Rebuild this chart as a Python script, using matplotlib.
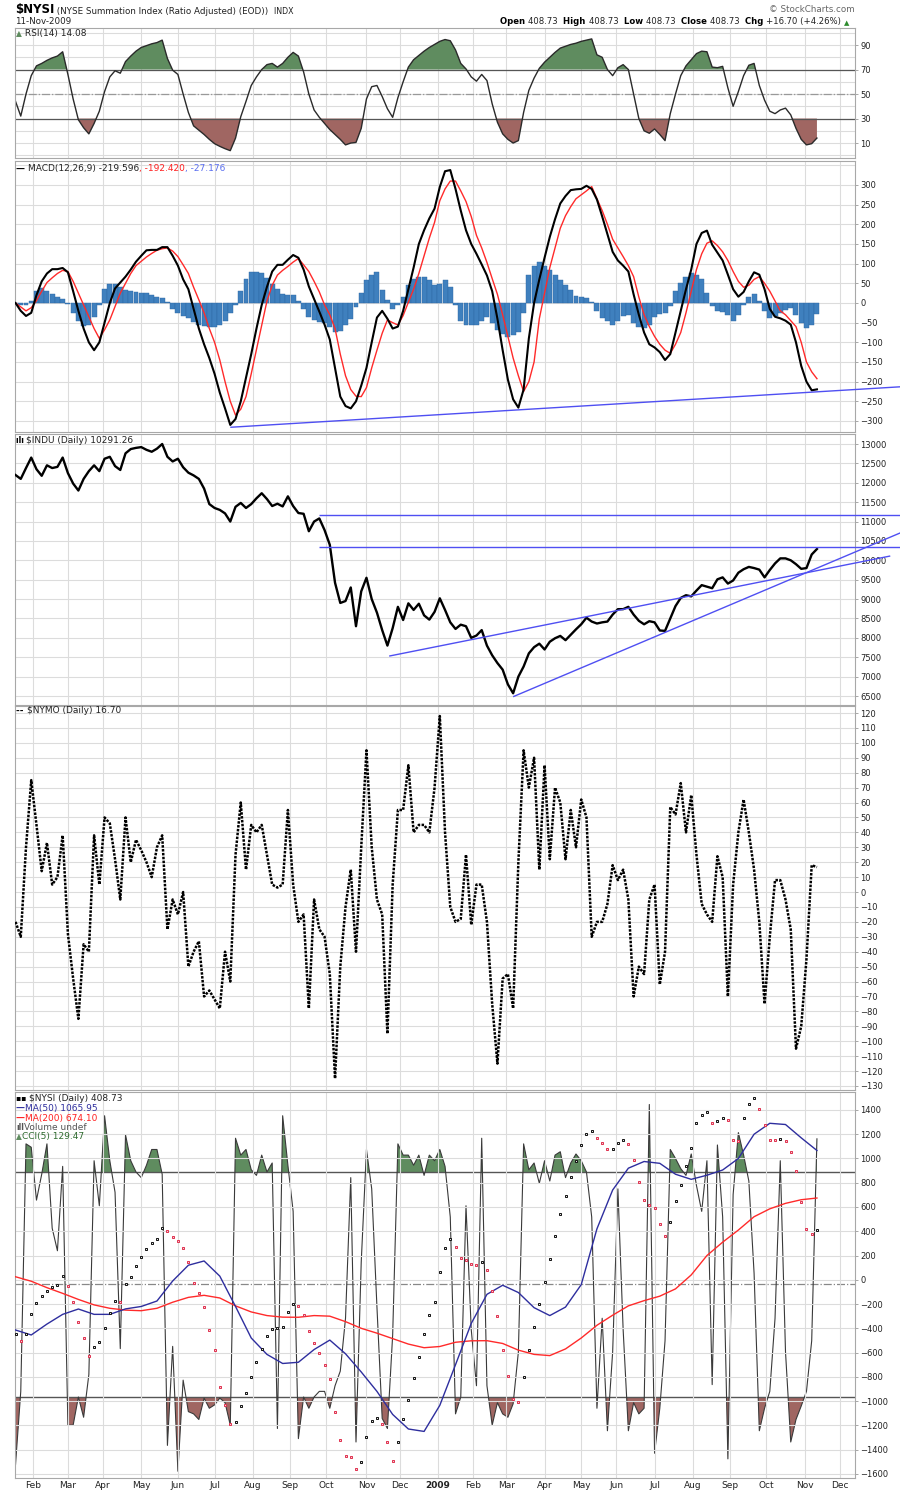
import numpy as np
import matplotlib
matplotlib.use("Agg")
import matplotlib.pyplot as plt
from matplotlib.text import Annotation

plt.rcParams['font.family'] = ['DejaVu Sans']

# ---------------- trading calendar (NYSE sessions) ----------------
HOLIDAYS = ['2008-01-21', '2008-02-18', '2008-03-21', '2008-05-26', '2008-07-04',
            '2008-09-01', '2008-11-27', '2008-12-25', '2009-01-01', '2009-01-19',
            '2009-02-16', '2009-04-10', '2009-05-25', '2009-07-03', '2009-09-07',
            '2009-11-26', '2009-12-25', '2010-01-01', '2010-01-18']
all_days = np.arange(np.datetime64('2008-01-17'), np.datetime64('2010-02-01'))
sessions = all_days[np.is_busday(all_days, holidays=HOLIDAYS)]


def sess(date):
    return int(np.searchsorted(sessions, np.datetime64(date)))


STEP = 3      # readings taken every third session (17-Jan-2008 .. 11-Nov-2009)
STEP_MA = 9   # moving-average readings every ninth session

# ---------------- data ----------------
rsi_vals = [44, 32, 50, 65, 73, 75, 77.5, 79.5, 81, 84.5,
            66, 46, 29, 22.5, 17.5, 26, 36, 52, 64, 69,
            67, 76.5, 81, 85, 88, 89.5, 91, 92, 94, 79,
            69.5, 66, 50, 35, 24, 20.5, 17, 13, 9.5, 7.3,
            5.4, 3.8, 14, 31.5, 44, 57, 64, 70, 74, 75,
            72, 75, 80, 84, 81, 68, 50, 37, 31, 26,
            21, 17, 13, 8.5, 10, 10.5, 22, 46, 56, 57,
            48, 38, 31, 47, 60, 72, 78, 81.5, 85, 88,
            90.5, 93, 94.5, 93.5, 86, 75, 70.5, 64, 60.5, 66,
            61, 42, 27, 17.5, 13, 10, 12, 35, 53, 63,
            71, 76, 80, 84, 87.5, 89, 90.5, 91.5, 93, 94,
            95, 82, 80, 70, 65, 71.5, 74, 70, 50, 30,
            20, 18, 21.5, 17, 12, 34, 50, 65, 73, 78,
            83, 85, 84.5, 72, 71.5, 72.6, 55, 40, 52, 65,
            73.5, 75, 57, 45, 36, 34, 37, 38.5, 33, 22,
            13, 8.5, 9.5, 14.08]

macd_vals = [0, -20, -33, -25, 20, 55, 75, 86, 86, 89,
             78, 30, -20, -65, -100, -120, -100, -50, 0, 37,
             52, 67, 85, 105, 120, 134, 135, 135, 142, 142,
             120, 95, 60, 35, -15, -65, -105, -140, -180, -228,
             -268, -310, -295, -250, -190, -130, -65, -5, 41, 80,
             97, 97, 110, 122, 115, 85, 42, 10, -22, -55,
             -93, -165, -238, -262, -268, -250, -210, -165, -100, -37,
             -20, -40, -65, -60, -20, 35, 90, 150, 185, 215,
             240, 295, 335, 338, 290, 235, 185, 150, 125, 98,
             70, 30, -40, -120, -195, -245, -266, -220, -90, 0,
             60, 115, 168, 213, 253, 272, 287, 289, 290, 298,
             290, 263, 220, 175, 130, 108, 95, 80, 22, -30,
             -75, -105, -113, -125, -145, -130, -75, -20, 35, 85,
             150, 178, 184, 148, 128, 108, 72, 35, 16, 28,
             55, 78, 72, 35, -15, -35, -39, -45, -55, -100,
             -160, -200, -222, -219.596]

signal_vals = [0, -10, -20, -12, 6, 30, 52, 64, 75, 83,
               80, 55, 25, -5, -35, -65, -90, -68, -43, -9,
               25, 50, 75, 95, 106, 117, 126, 134, 138, 140,
               132, 118, 97, 75, 40, 8, -25, -65, -100, -145,
               -200, -250, -285, -270, -238, -180, -118, -55, 5, 45,
               71, 83, 93, 104, 113, 97, 80, 55, 28, -5,
               -30, -65, -130, -185, -220, -237, -238, -215, -165, -120,
               -77, -43, -50, -56, -32, 2, 35, 75, 120, 165,
               205, 260, 290, 310, 310, 285, 258, 220, 172, 140,
               103, 62, 22, -30, -85, -140, -185, -225, -200, -150,
               -40, 25, 90, 140, 190, 222, 245, 265, 275, 285,
               296, 265, 235, 200, 162, 140, 118, 95, 67, 15,
               -30, -60, -85, -105, -120, -128, -105, -75, -25, 30,
               85, 125, 152, 158, 146, 130, 108, 80, 55, 40,
               45, 60, 67, 50, 30, 5, -20, -30, -45, -60,
               -100, -150, -175, -192.420]

hist_vals = [0, -5, -5, 5, 30, 37, 30, 22, 15, 10,
             -2, -25, -45, -58, -55, -35, -5, 35, 48, 48,
             40, 34, 30, 28, 26, 25, 21, 16, 12, 2,
             -15, -25, -32, -37, -48, -55, -58, -60, -60, -55,
             -47, -25, -5, 30, 60, 78, 80, 77, 63, 48,
             35, 22, 20, 20, 5, -15, -35, -44, -48, -50,
             -60, -75, -70, -55, -40, -10, 25, 58, 72, 78,
             32, 8, -16, -5, 15, 45, 60, 67, 65, 58,
             45, 48, 58, 40, -5, -45, -56, -56, -56, -45,
             -35, -50, -68, -78, -86, -82, -75, -25, 70, 95,
             104, 95, 84, 72, 58, 45, 32, 18, 15, 13,
             2, -20, -37, -47, -56, -45, -32, -30, -50, -62,
             -64, -55, -35, -28, -26, -8, 30, 52, 66, 76,
             72, 60, 25, -8, -21, -24, -30, -47, -30, -5,
             15, 24, 5, -20, -39, -33, -26, -18, -14, -30,
             -50, -64, -55, -27.176]

indu_vals = [12200, 12100, 12380, 12650, 12350, 12180, 12450, 12380, 12410, 12650,
             12250, 11980, 11800, 12100, 12300, 12450, 12300, 12620, 12670, 12430,
             12330, 12760, 12870, 12900, 12920, 12850, 12800, 12880, 13000, 12670,
             12550, 12620, 12400, 12260, 12190, 12100, 11850, 11450, 11350, 11300,
             11210, 11000, 11380, 11480, 11350, 11450, 11600, 11730, 11580, 11400,
             11460, 11390, 11650, 11400, 11220, 11200, 10750, 11000, 11080, 10780,
             10400, 9420, 8900, 8950, 9300, 8300, 9200, 9550, 9000, 8650,
             8200, 7800, 8250, 8800, 8460, 8890, 8720, 8880, 8580, 8470,
             8670, 9020, 8720, 8400, 8230, 8340, 8300, 8000, 8060, 8200,
             7800, 7550, 7350, 7180, 6800, 6570, 7000, 7260, 7600, 7760,
             7850, 7700, 7900, 7990, 8050, 7940, 8080, 8220, 8350, 8520,
             8420, 8370, 8400, 8420, 8600, 8740, 8740, 8800, 8600, 8440,
             8350, 8430, 8400, 8190, 8180, 8500, 8820, 9030, 9100, 9070,
             9220, 9360, 9320, 9280, 9510, 9560, 9400, 9480, 9680, 9770,
             9830, 9800, 9760, 9560, 9750, 9920, 10050, 10050, 10000, 9900,
             9780, 9800, 10150, 10291.26]

nymo_vals = [-20, -30, 30, 75, 45, 14, 33, 5, 10, 38,
             -28, -58, -85, -35, -40, 38, 5, 50, 46, 22,
             -5, 50, 20, 35, 28, 20, 10, 30, 38, -25,
             -5, -15, 0, -50, -40, -33, -70, -66, -72, -78,
             -40, -60, 25, 60, 15, 45, 40, 45, 25, 5,
             3, 5, 55, 5, -20, -15, -78, -5, -25, -30,
             -55, -125, -50, -10, 15, -40, 30, 95, 30, -5,
             -15, -95, 5, 55, 55, 85, 40, 45, 45, 40,
             70, 118, 40, -10, -20, -18, 25, -22, 5, 5,
             -20, -75, -115, -58, -55, -78, 20, 95, 70, 90,
             15, 85, 22, 70, 60, 22, 55, 30, 62, 50,
             -30, -20, -20, -8, 18, 8, 15, -5, -70, -50,
             -55, -5, 5, -62, -40, 57, 52, 73, 40, 65,
             25, -8, -15, -20, 24, 10, -70, 5, 40, 62,
             40, 15, -20, -75, -30, 8, 8, -5, -25, -105,
             -90, -45, 18, 16.70]

nysi_vals = [-450, -505, -445, -280, -190, -135, -95, -62, -40, 35,
             -55, -180, -350, -480, -630, -550, -515, -400, -270, -175,
             -180, -35, 20, 110, 190, 255, 300, 340, 430, 405,
             355, 320, 260, 145, -30, -110, -225, -410, -580, -880,
             -1030, -1190, -1170, -1040, -930, -800, -675, -570, -465, -405,
             -400, -390, -265, -200, -220, -290, -420, -520, -600, -700,
             -820, -1087, -1320, -1450, -1465, -1560, -1500, -1300, -1160, -1140,
             -1190, -1334, -1495, -1340, -1150, -990, -812, -640, -450, -290,
             -180, 67, 260, 340, 270, 180, 165, 130, 120, 145,
             80, -90, -300, -580, -790, -980, -1010, -800, -580, -390,
             -200, -20, 170, 360, 540, 690, 850, 980, 1110, 1200,
             1230, 1170, 1130, 1080, 1080, 1130, 1150, 1120, 990, 810,
             660, 620, 590, 460, 360, 480, 650, 780, 940, 1090,
             1290, 1360, 1385, 1290, 1310, 1335, 1320, 1150, 1140, 1330,
             1450, 1500, 1410, 1280, 1155, 1150, 1160, 1140, 1050, 900,
             640, 420, 375, 408.73]

cci_vals = [-160, -95, 125, 122, 75, 98, 125, 50, 30, 105,
            -125, -125, -100, -118, -80, 110, 70, 150, 110, 82,
            -57, 133, 110, 100, 95, 106, 120, 120, 98, -143,
            -55, -166, -85, -113, -115, -120, -101, -110, -107, -101,
            -105, -125, 130, 115, 120, 102, 97, 115, 100, 108,
            -128, 150, 106, 65, -137, -100, -110, -100, -95, -95,
            -110, -90, -77, -30, 95, -140, 20, 120, 85, -20,
            -119, -128, -45, 125, 115, 115, 106, 115, 97, 115,
            110, 120, 105, 60, -115, -100, 70, -40, -90, 130,
            -90, -125, -105, -115, -118, -106, -60, 125, 102, 108,
            90, 110, 92, 115, 118, 95, 108, 116, 110, 100,
            60, -110, -30, -130, -60, 85, -40, -130, -105, -115,
            -110, 160, -150, -110, -50, 120, 112, 103, 97, 116,
            88, 65, 110, -89, 124, 60, -155, 80, 135, 115,
            92, 10, -130, -110, -95, -30, 110, -60, -140, -120,
            -108, -95, -50, 129.47]

ma50_vals = [-414, -455, -365, -285, -241, -285, -285, -240, -220, -175,
             -10, 120, 155, 30, -220, -480, -615, -690, -680, -575,
             -497, -610, -760, -920, -1110, -1230, -1250, -1035, -700, -360,
             -120, -45, -105, -230, -295, -225, -40, 420, 740, 920,
             975, 960, 870, 828, 862, 905, 1000, 1200, 1290, 1280,
             1170, 1065.95]

ma200_vals = [25, -12, -65, -112, -162, -207, -235, -250, -255, -235,
              -185, -145, -128, -150, -215, -265, -295, -308, -309, -295,
              -300, -345, -400, -440, -485, -530, -560, -550, -515, -503,
              -502, -525, -580, -615, -625, -570, -480, -375, -292, -215,
              -172, -135, -75, 40, 200, 310, 410, 520, 585, 630,
              660, 674.10]

# trend lines drawn on the chart: (date, value) -> (date, value)
macd_trend = [('2008-07-15', -316), ('2010-01-22', -213)]
indu_trends = [[('2008-09-25', 11170), ('2010-01-22', 11170)],
               [('2008-09-25', 10350), ('2010-01-22', 10350)],
               [('2008-11-20', 7530), ('2010-01-13', 10111)],
               [('2009-03-06', 6482), ('2010-01-22', 10712)]]

month_starts = ['2008-02-01', '2008-03-01', '2008-04-01', '2008-05-01', '2008-06-01',
                '2008-07-01', '2008-08-01', '2008-09-01', '2008-10-01', '2008-11-01',
                '2008-12-01', '2009-01-01', '2009-02-01', '2009-03-01', '2009-04-01',
                '2009-05-01', '2009-06-01', '2009-07-01', '2009-08-01', '2009-09-01',
                '2009-10-01', '2009-11-01', '2009-12-01']
month_labels = ['Feb', 'Mar', 'Apr', 'May', 'Jun', 'Jul', 'Aug', 'Sep', 'Oct', 'Nov',
                'Dec', '2009', 'Feb', 'Mar', 'Apr', 'May', 'Jun', 'Jul', 'Aug', 'Sep',
                'Oct', 'Nov', 'Dec']

# ---------------- styling ----------------
GREEN = '#5f8c5f'
BROWN = '#a06662'
GRID = '#dcdcdc'
TREND = '#4f4ff2'
FRAME = '#a8a8a8'
XLIM = (-0.3, 480.8)

W, H = 900.0, 1493.0
fig = plt.figure(figsize=(W / 100, H / 100), dpi=100, facecolor='white')


def panel(top, bottom, left=15, right=855):
    return fig.add_axes([left / W, 1 - bottom / H, (right - left) / W, (bottom - top) / H])


month_x = [sess(d) for d in month_starts]


def style(ax, ylim, labelled, gridded):
    ax.set_xlim(*XLIM)
    ax.set_ylim(*ylim)
    ax.yaxis.tick_right()
    ax.yaxis.set_label_position('right')
    ax.set_yticks(gridded, minor=True)
    ax.set_yticks(labelled)
    ax.set_xticks(month_x)
    ax.set_xticklabels([])
    ax.grid(True, which='both', axis='y', color=GRID, lw=0.8)
    ax.grid(True, which='major', axis='x', color=GRID, lw=0.8)
    ax.tick_params(axis='x', length=0, labelbottom=False)
    ax.tick_params(axis='y', which='major', length=2, width=0.6, color='#999999',
                   labelsize=6, pad=2, labelcolor='#222222', left=False, labelleft=False,
                   right=True, labelright=True)
    ax.tick_params(axis='y', which='minor', length=0)
    for s in ax.spines.values():
        s.set_color(FRAME)
        s.set_linewidth(0.8)
    ax.set_axisbelow(True)


def seg(ax, pts):
    (d0, v0), (d1, v1) = pts
    ax.plot([sess(d0), sess(d1)], [v0, v1], color=TREND, lw=1.0, clip_on=False,
            zorder=6, solid_capstyle='butt')


# ---------------- RSI ----------------
ax_rsi = panel(28, 158)
style(ax_rsi, (-2.2, 103.9), np.arange(10, 91, 20), np.arange(0, 101, 10))
rsi = np.array(rsi_vals)
xr = np.arange(len(rsi)) * STEP
ax_rsi.fill_between(xr, rsi, 70, where=rsi >= 70, interpolate=True, color=GREEN, lw=0)
ax_rsi.fill_between(xr, rsi, 30, where=rsi <= 30, interpolate=True, color=BROWN, lw=0)
ax_rsi.axhline(70, color='#555555', lw=0.9)
ax_rsi.axhline(30, color='#555555', lw=0.9)
ax_rsi.axhline(50, color='#999999', lw=0.9, ls='-.')
ax_rsi.plot(xr, rsi, color='#2a2a2a', lw=1.0)

# ---------------- MACD ----------------
ax_macd = panel(161, 432)
style(ax_macd, (-328, 361), np.arange(-300, 301, 50), np.arange(-300, 351, 50))
xm = np.arange(len(macd_vals)) * STEP
ax_macd.bar(xm, hist_vals, width=STEP * 0.95, color='#3f80be', edgecolor='#2c67a3',
            linewidth=0.3, zorder=2)
ax_macd.plot(xm, signal_vals, color='#ff2a2a', lw=1.0, zorder=3)
ax_macd.plot(xm, macd_vals, color='black', lw=1.5, zorder=4)
seg(ax_macd, macd_trend)

# ---------------- $INDU ----------------
ax_indu = panel(434, 705)
style(ax_indu, (6268, 13258), np.arange(6500, 13001, 500), np.arange(6500, 13001, 500))
xi = np.arange(len(indu_vals)) * STEP
ax_indu.plot(xi, indu_vals, color='black', lw=1.7, zorder=4)
for tl in indu_trends:
    seg(ax_indu, tl)

# ---------------- $NYMO ----------------
ax_nymo = panel(706, 1090)
style(ax_nymo, (-132.7, 124.7), np.arange(-130, 121, 10), np.arange(-130, 121, 10))
xn = np.arange(len(nymo_vals)) * STEP
ax_nymo.plot(xn, nymo_vals, color='black', lw=1.8, ls=(0, (1.0, 0.55)), zorder=4)

# ---------------- $NYSI + MAs + CCI ----------------
ax_nysi = panel(1092, 1478)
ax_cci = ax_nysi.twinx()
style(ax_nysi, (-1634, 1548), np.arange(-1600, 1401, 200), np.arange(-1600, 1401, 200))
ax_cci.set_ylim(-172, 171.1)
ax_cci.set_yticks([])
ax_cci.tick_params(axis='y', right=False, labelright=False, left=False, labelleft=False)
for s in ax_cci.spines.values():
    s.set_visible(False)
ax_cci.set_zorder(0)
ax_nysi.set_zorder(1)
ax_nysi.patch.set_visible(False)

cci = np.array(cci_vals)
xc = np.arange(len(cci)) * STEP
ax_cci.fill_between(xc, cci, 100, where=cci >= 100, interpolate=True, color=GREEN, lw=0)
ax_cci.fill_between(xc, cci, -100, where=cci <= -100, interpolate=True, color=BROWN, lw=0)
ax_cci.axhline(100, color='#555555', lw=1.0)
ax_cci.axhline(-100, color='#555555', lw=1.0)
ax_cci.axhline(0, color='#888888', lw=0.9, ls='-.')
ax_cci.plot(xc, cci, color='#3a3a3a', lw=0.8)

xma = np.arange(len(ma50_vals)) * STEP_MA
ax_nysi.plot(xma, ma200_vals, color='#ff2a2a', lw=1.0, zorder=3)
ax_nysi.plot(xma, ma50_vals, color='#2e2e9e', lw=1.0, zorder=3)

nysi = np.array(nysi_vals)
xs = np.arange(len(nysi)) * STEP
up = np.r_[True, np.diff(nysi) >= 0]
ax_nysi.plot(xs[up], nysi[up], ls='none', marker='s', ms=2.1, mfc='#e6e6e6',
             mec='#111111', mew=0.7, zorder=5)
ax_nysi.plot(xs[~up], nysi[~up], ls='none', marker='s', ms=2.1, mfc='#f6d0d6',
             mec='#e0304e', mew=0.7, zorder=5)

ax_nysi.set_xticklabels(month_labels)
ax_nysi.tick_params(axis='x', labelbottom=True, labelsize=6.5, pad=2, labelcolor='#222222')
for lab in ax_nysi.get_xticklabels():
    if lab.get_text() == '2009':
        lab.set_fontweight('bold')


# ---------------- texts ----------------
def chain(y, x, parts, size=6.5):
    s, c, w, *rest = parts[0]
    fs = rest[0] if rest else size
    t = fig.text(x / W, 1 - y / H, s, color=c, fontsize=fs, fontweight=w, va='baseline',
                 ha='left', zorder=20)
    for part in parts[1:]:
        s, c, w, *rest = part
        fs = rest[0] if rest else size
        a = Annotation(s, xy=(1, 0), xycoords=t, va='bottom', ha='left', color=c,
                       fontsize=fs, fontweight=w, annotation_clip=False, zorder=20)
        fig.add_artist(a)
        t = a
    return t


chain(12.5, 15, [('$NYSI', 'black', 'bold', 8.5),
                 (' (NYSE Summation Index (Ratio Adjusted) (EOD))', '#222222', 'normal', 6.3),
                 ('  INDX', '#222222', 'normal', 5.7)])
fig.text(15 / W, 1 - 23.5 / H, '11-Nov-2009', fontsize=6.3, color='#222222', va='baseline')
fig.text(855 / W, 1 - 9 / H, '\u00a9 StockCharts.com', fontsize=6.3, color='#666666',
         va='center', ha='right')
chain(24, 500, [('Open ', 'black', 'bold'), ('408.73  ', '#222222', 'normal'),
                ('High ', 'black', 'bold'), ('408.73  ', '#222222', 'normal'),
                ('Low ', 'black', 'bold'), ('408.73  ', '#222222', 'normal'),
                ('Close ', 'black', 'bold'), ('408.73  ', '#222222', 'normal'),
                ('Chg ', 'black', 'bold'), ('+16.70 (+4.26%) ', '#222222', 'normal'),
                ('\u25b2', '#2e8b2e', 'normal', 5)], size=6.15)

chain(36, 16, [('\u25b2', GREEN, 'normal', 5.5), (' RSI(14) 14.08', '#222222', 'normal')])
chain(171, 16, [('\u2014 ', 'black', 'bold'), ('MACD(12,26,9) -219.596', '#222222', 'normal'),
                (', -192.420', '#ff2020', 'normal'), (', -27.176', '#5a6ef0', 'normal')])
chain(443, 16, [('\u0131l\u0131 ', 'black', 'bold', 5.5), ('$INDU (Daily) 10291.26', '#222222', 'normal')])
chain(713, 16, [('-- ', 'black', 'bold'), ('$NYMO (Daily) 16.70', '#222222', 'normal')])
chain(1101, 16, [('\u25aa\u25aa ', 'black', 'normal', 5.5), ('$NYSI (Daily) 408.73', '#222222', 'normal')])
chain(1111, 16, [('\u2014', '#2e2e9e', 'bold'), ('MA(50) 1065.95', '#2e2e9e', 'normal')])
chain(1120.5, 16, [('\u2014', '#ff2020', 'bold'), ('MA(200) 674.10', '#ff2020', 'normal')])
chain(1130, 16, [('\u0131ll', '#555555', 'bold', 5.5), ('Volume undef', '#555555', 'normal')])
chain(1139, 16, [('\u25b2', GREEN, 'normal', 5.5), ('CCI(5) 129.47', '#2e6b2e', 'normal')])

fig.savefig('out.png', dpi=100, facecolor='white')
